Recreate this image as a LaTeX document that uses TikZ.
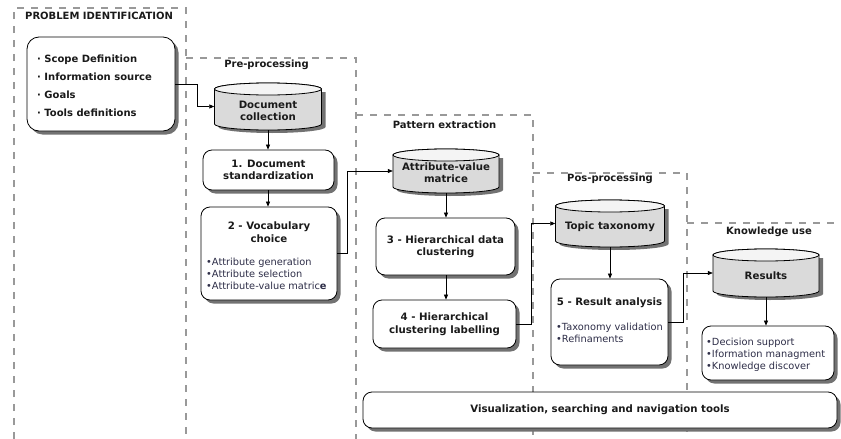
\documentclass[tikz,border=0pt]{standalone}
\usepackage{fontspec}
\setmainfont{DejaVu Sans}
\usetikzlibrary{arrows.meta,shadows}
\definecolor{regc}{HTML}{999999}
\definecolor{shc}{HTML}{727272}
\definecolor{cylbody}{HTML}{DADADA}
\definecolor{cyltop}{HTML}{F4F4F4}
\definecolor{bulc}{HTML}{2E2E48}
\definecolor{txtc}{HTML}{1A1A1A}
\tikzset{
 region/.style={draw=regc, line width=1.3pt, dash pattern=on 7pt off 7pt},
 rtitle/.style={font=\bfseries\fontsize{10}{12}\selectfont, text=txtc, inner sep=0pt},
 box/.style={draw=black, line width=0.8pt, fill=white, rounded corners=9pt, inner sep=0pt,
   drop shadow={fill=shc, opacity=1, shadow xshift=3.5pt, shadow yshift=-3.5pt}},
 btext/.style={font=\bfseries\fontsize{10.2}{12.5}\selectfont, text=txtc, align=center, inner sep=0pt},
 bultext/.style={font=\fontsize{9.8}{11.8}\selectfont, text=bulc, align=left, inner sep=0pt, anchor=west},
 arr/.style={draw=black, line width=0.7pt, -{Triangle[length=5pt,width=4pt]}},
 cylarea/.style={inner sep=0pt, draw=none},
}
\newcommand\cylfig[4]{%
 \fill[shc] ({#1-#4+4},{#2+9}) -- ({#1-#4+4},{#3-3}) arc[start angle=180,end angle=360,x radius=#4pt,y radius=6pt] -- ({#1+#4+4},{#2+9}) -- cycle;
 \filldraw[draw=black,line width=0.8pt,fill=cylbody] ({#1-#4},{#2+6}) -- ({#1-#4},{#3-6}) arc[start angle=180,end angle=360,x radius=#4pt,y radius=6pt] -- ({#1+#4},{#2+6}) arc[start angle=0,end angle=180,x radius=#4pt,y radius=6pt] -- cycle;
 \filldraw[draw=black,line width=0.8pt,fill=cyltop] (#1,{#2+6}) ellipse[x radius=#4pt,y radius=6pt];
}
\begin{document}
\begin{tikzpicture}[x=1pt,y=-1pt]
\useasboundingbox (0,0) rectangle (841,439);
\fill[white] (0,0) rectangle (841,439);

% regions
\draw[region] (14,439) -- (14,8) -- (186,8) -- (186,439);
\draw[region] (186,58) -- (356,58) -- (356,439);
\draw[region] (356,115) -- (533,115) -- (533,439);
\draw[region] (533,173) -- (687,173) -- (687,439);
\draw[region] (687,223) -- (841,223);

\node[rtitle, anchor=west] (t0) at (25,15.5) {PROBLEM IDENTIFICATION};
\node[rtitle] (t1) at (266.5,65) {Pre-processing};
\node[rtitle] (t2) at (444.5,125) {Pattern extraction};
\node[rtitle] (t3) at (610,179) {Pos-processing};
\node[rtitle] (t4) at (769,232) {Knowledge use};

% problem box
\node[box, rounded corners=12pt, minimum width=148pt, minimum height=94pt] (prob) at (101,84) {};
\node[font=\bfseries\fontsize{10}{18}\selectfont, text=txtc, align=left, inner sep=0pt, anchor=west] (probt) at (37,86)
 {· Scope Definition\\· Information source\\· Goals\\· Tools definitions};

% cylinders
\cylfig{268}{83}{130}{53.5}
\node[cylarea, minimum width=107pt, minimum height=47pt] (dc) at (268,106.5) {};
\node[btext] (dct) at (268,111) {Document\\collection};

\cylfig{446}{149}{193}{53}
\node[cylarea, minimum width=106pt, minimum height=44pt] (av) at (446,171) {};
\node[btext] (avt) at (446,172.5) {Attribute-value\\matrice};

\cylfig{610}{200}{247}{54.5}
\node[cylarea, minimum width=109pt, minimum height=47pt] (tt) at (610,223.5) {};
\node[btext] (ttt) at (610,227) {Topic taxonomy};

\cylfig{766}{249}{297}{53}
\node[cylarea, minimum width=106pt, minimum height=48pt] (rs) at (766,273) {};
\node[btext] (rst) at (766,275.5) {Results};

% process boxes
\node[box, btext, minimum width=131pt, minimum height=40pt] (b1) at (268.5,170) {1. Document\\standardization};

\node[box, minimum width=136pt, minimum height=93pt] (b2) at (269,253.5) {};
\node[btext] (b2t) at (269,232) {2 - Vocabulary\\choice};
\node[bultext] (b2b) at (206,274) {•Attribute generation\\•Attribute selection\\•Attribute-value matric\textbf{e}};

\node[box, btext, minimum width=139pt, minimum height=57pt] (b3) at (445.5,246.5) {3 - Hierarchical data\\clustering};
\node[box, btext, minimum width=143pt, minimum height=48pt] (b4) at (444.5,324) {4 - Hierarchical\\clustering labelling};

\node[box, minimum width=117pt, minimum height=86pt] (b5) at (609.5,322) {};
\node[btext] (b5t) at (609.5,303) {5 - Result analysis};
\node[bultext] (b5b) at (556,333) {•Taxonomy validation\\•Refinaments};

\node[box, minimum width=132pt, minimum height=54pt] (kn) at (768,353) {};
\node[bultext] (knb) at (706,354.5) {•Decision support\\•Iformation managment\\•Knowledge discover};

\node[box, btext, minimum width=474pt, minimum height=36pt] (vis) at (600,410) {Visualization, searching and navigation tools};

% connectors
\draw[arr] (prob.east) -- ++(22,0) |- (dc.west);
\draw[arr] (dc.south) -- (dc.south |- b1.north);
\draw[arr] (b1.south -| dc.south) -- (dc.south |- b2.north);
\draw[arr] (b2.east) -- ++(10,0) |- (av.west);
\draw[arr] (av.south) -- (av.south |- b3.north);
\draw[arr] (b3.south -| av.south) -- (av.south |- b4.north);
\draw[arr] (b4.east) -- ++(15,0) |- (tt.west);
\draw[arr] (tt.south) -- (tt.south |- b5.north);
\draw[arr] (b5.east) -- ++(15,0) |- (rs.west);
\draw[arr] (rs.south) -- (rs.south |- kn.north);
\end{tikzpicture}
\end{document}
